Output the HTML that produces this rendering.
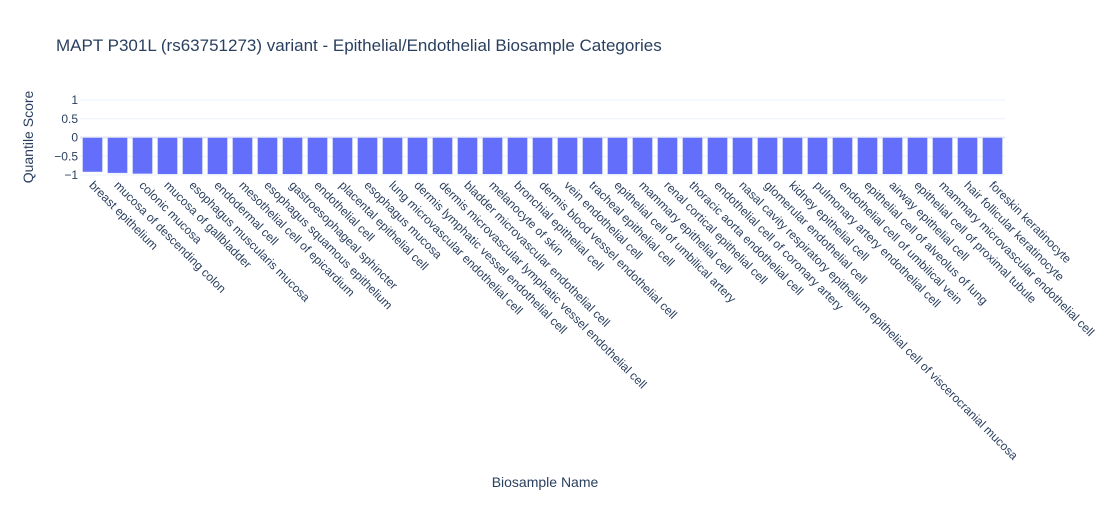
<!DOCTYPE html>
<html><head><meta charset="utf-8"><style>
body{margin:0;background:#fff;font-family:"Liberation Sans",Arial,sans-serif}
</style></head><body>
<svg id="chart" width="1110" height="500" xmlns="http://www.w3.org/2000/svg" style="font-family:'Liberation Sans',Arial,sans-serif">
<text x="56" y="51" font-size="17" fill="#2a3f5f">MAPT P301L (rs63751273) variant - Epithelial/Endothelial Biosample Categories</text>
<text transform="translate(37,137) rotate(-90)" text-anchor="middle" font-size="14" fill="#2a3f5f" dy="-4">Quantile Score</text>
<text x="545" y="487" text-anchor="middle" font-size="14" fill="#2a3f5f">Biosample Name</text>
<g id="grid"></g><g id="bars"></g><g id="labels"></g>
</svg>
<script>
const categories=["breast epithelium","mucosa of descending colon","colonic mucosa","mucosa of gallbladder","esophagus muscularis mucosa","endodermal cell","mesothelial cell of epicardium","esophagus squamous epithelium","gastroesophageal sphincter","endothelial cell","placental epithelial cell","esophagus mucosa","lung microvascular endothelial cell","dermis lymphatic vessel endothelial cell","dermis microvascular lymphatic vessel endothelial cell","bladder microvascular endothelial cell","melanocyte of skin","bronchial epithelial cell","dermis blood vessel endothelial cell","vein endothelial cell","tracheal epithelial cell","epithelial cell of umbilical artery","mammary epithelial cell","renal cortical epithelial cell","thoracic aorta endothelial cell","endothelial cell of coronary artery","nasal cavity respiratory epithelium epithelial cell of viscerocranial mucosa","glomerular endothelial cell","kidney epithelial cell","pulmonary artery endothelial cell","endothelial cell of umbilical vein","epithelial cell of alveolus of lung","airway epithelial cell","epithelial cell of proximal tubule","mammary microvascular endothelial cell","hair follicular keratinocyte","foreskin keratinocyte"];
const values=[-0.92,-0.95,-0.97,-0.98,-0.98,-0.98,-0.98,-0.98,-0.98,-0.98,-0.98,-0.98,-0.98,-0.98,-0.98,-0.98,-0.98,-0.98,-0.98,-0.98,-0.98,-0.98,-0.98,-0.98,-0.98,-0.98,-0.98,-0.98,-0.98,-0.98,-0.98,-0.98,-0.98,-0.98,-0.98,-0.98,-0.98];
const yTicks=[1,0.5,0,-0.5,-1];
const yTickLabels=["1","0.5","0","\u22120.5","\u22121"];
const NS="http://www.w3.org/2000/svg";
const X0=80,X1=1005,Y0=137.5,K=37.5;
const y=v=>Y0-v*K;
const step=(X1-X0)/categories.length;
const xc=i=>X0+step*(i+0.5);
const grid=document.getElementById('grid'),bars=document.getElementById('bars'),labels=document.getElementById('labels');
yTicks.forEach((t,i)=>{
 const l=document.createElementNS(NS,'line');
 
 
 l.setAttribute('x1',X0);l.setAttribute('x2',X1);l.setAttribute('y1',y(t));l.setAttribute('y2',y(t));
 l.setAttribute('stroke',t===0?'#e0e6ef':'#ebf0f8');l.setAttribute('stroke-width',t===0?2:1);
 grid.appendChild(l);
 const tx=document.createElementNS(NS,'text');
 
 
 tx.setAttribute('x',X0-2);tx.setAttribute('y',y(t)+4);tx.setAttribute('text-anchor','end');
 tx.setAttribute('font-size','12');tx.setAttribute('fill','#2a3f5f');tx.textContent=yTickLabels[i];
 grid.appendChild(tx);
});
categories.forEach((c,i)=>{
 const v=values[i],w=step*0.8;
 const r=document.createElementNS(NS,'rect');
 
 
 r.setAttribute('x',xc(i)-w/2);r.setAttribute('width',w);
 r.setAttribute('y',Math.min(y(0),y(v)));r.setAttribute('height',Math.abs(y(v)-y(0)));
 r.setAttribute('fill','#636efa');r.setAttribute('stroke','#e5ecf6');r.setAttribute('stroke-width','0.5');
 bars.appendChild(r);
 const t=document.createElementNS(NS,'text');
 
 
 const lx=xc(i)-4,ly=186;
 t.setAttribute('x',lx);t.setAttribute('y',ly);t.setAttribute('transform','rotate(45 '+lx+' '+ly+')');
 t.setAttribute('font-size','12');t.setAttribute('fill','#2a3f5f');t.textContent=c;
 labels.appendChild(t);
});
</script>
</body></html>
